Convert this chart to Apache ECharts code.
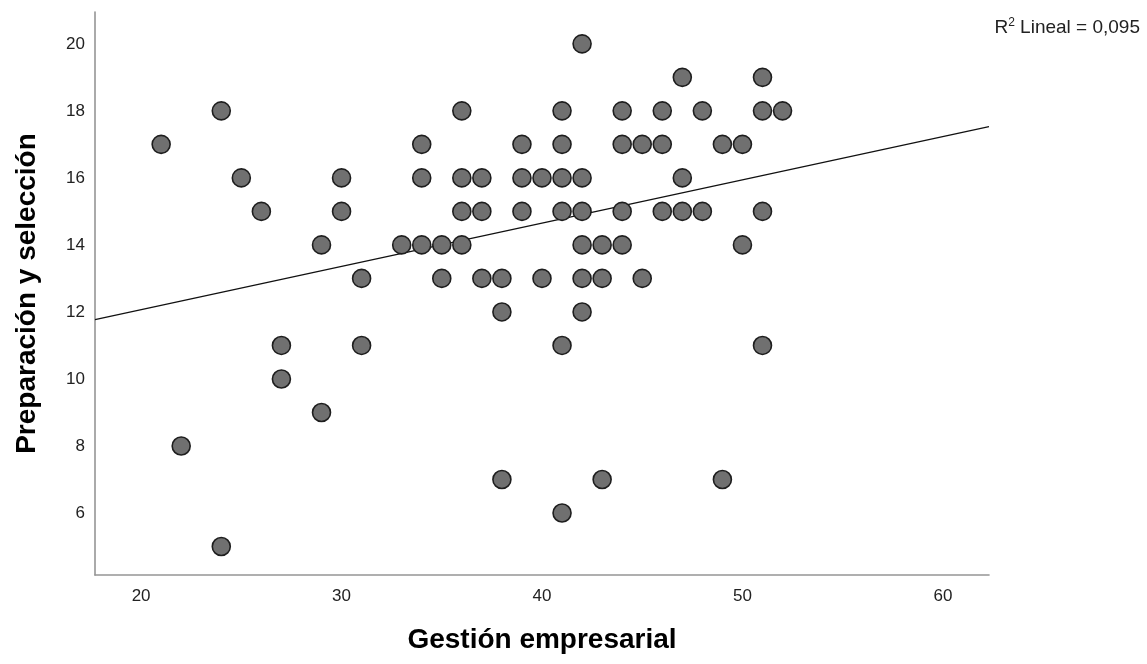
<!DOCTYPE html>
<html>
<head>
<meta charset="utf-8">
<title>Gestión empresarial vs Preparación y selección</title>
<script src="https://cdn.jsdelivr.net/npm/echarts@6/dist/echarts.min.js"></script>
<style>
  html, body { margin: 0; padding: 0; background: #fff; }
  #chart { width: 1147px; height: 664px; }
</style>
</head>
<body>
<div id="chart"></div>
<script>
  // puntos (x = Gestión empresarial, y = Preparación y selección)
  const gestion = [
    42,
    47, 51,
    24, 36, 41, 44, 46, 48, 51, 52,
    21, 34, 39, 41, 44, 45, 46, 49, 50,
    25, 30, 34, 36, 37, 39, 40, 41, 42, 47,
    26, 30, 36, 37, 39, 41, 42, 44, 46, 47, 48, 51,
    29, 33, 34, 35, 36, 42, 43, 44, 50,
    31, 35, 37, 38, 40, 42, 43, 45,
    38, 42,
    27, 31, 41, 51,
    27,
    29,
    22,
    38, 43, 49,
    41,
    24
  ];
  const preparacion = [
    20,
    19, 19,
    18, 18, 18, 18, 18, 18, 18, 18,
    17, 17, 17, 17, 17, 17, 17, 17, 17,
    16, 16, 16, 16, 16, 16, 16, 16, 16, 16,
    15, 15, 15, 15, 15, 15, 15, 15, 15, 15, 15, 15,
    14, 14, 14, 14, 14, 14, 14, 14, 14,
    13, 13, 13, 13, 13, 13, 13, 13,
    12, 12,
    11, 11, 11, 11,
    10,
    9,
    8,
    7, 7, 7,
    6,
    5
  ];
  // recta de ajuste lineal (extremos)
  const ajusteX = [17.7, 62.3];
  const ajusteY = [11.77, 17.53];
  const xTicks = [20, 30, 40, 50, 60];
  const yTicks = [6, 8, 10, 12, 14, 16, 18, 20];

  const puntos = gestion.map((g, i) => [g, preparacion[i]]);
  const linea = ajusteX.map((x, i) => [x, ajusteY[i]]);

  const fuente = 'Liberation Sans, Arial, sans-serif';
  const chart = echarts.init(document.getElementById('chart'));
  chart.setOption({
    animation: false,
    textStyle: { fontFamily: fuente },
    grid: { left: 95, right: 158, top: 12, bottom: 89, containLabel: false },
    xAxis: {
      type: 'value',
      min: 17.7,
      max: 62.3,
      name: 'Gestión empresarial',
      nameLocation: 'middle',
      nameGap: 51,
      nameTextStyle: { fontSize: 28, fontWeight: 'bold', color: '#000' },
      splitLine: { show: false },
      axisTick: { show: false },
      axisLine: { lineStyle: { color: '#959595', width: 1.6 } },
      axisLabel: {
        color: '#222', fontSize: 17, margin: 13,
        customValues: xTicks
      }
    },
    yAxis: {
      type: 'value',
      min: 4.15,
      max: 20.95,
      name: 'Preparación y selección',
      nameLocation: 'middle',
      nameGap: 54,
      nameTextStyle: { fontSize: 28, fontWeight: 'bold', color: '#000' },
      splitLine: { show: false },
      axisTick: { show: false },
      axisLine: { show: true, lineStyle: { color: '#959595', width: 1.6 } },
      axisLabel: {
        color: '#222', fontSize: 17, margin: 10,
        customValues: yTicks
      }
    },
    graphic: [{
      type: 'text',
      right: 7,
      top: 17,
      style: {
        text: '{b|R}{s|2}{b| Lineal = 0,095}',
        rich: {
          b: { fontSize: 19, fill: '#222', fontFamily: fuente },
          s: { fontSize: 12, fill: '#222', verticalAlign: 'top', padding: [0, 0, 10, 0], fontFamily: fuente }
        }
      }
    }],
    series: [
      {
        type: 'line',
        data: linea,
        symbol: 'none',
        lineStyle: { color: '#111', width: 1.2 },
        z: 1
      },
      {
        type: 'scatter',
        data: puntos,
        symbolSize: 18,
        itemStyle: { color: '#707070', borderColor: '#1e1e1e', borderWidth: 1.6, opacity: 1 },
        z: 2
      }
    ]
  });
</script>
</body>
</html>
